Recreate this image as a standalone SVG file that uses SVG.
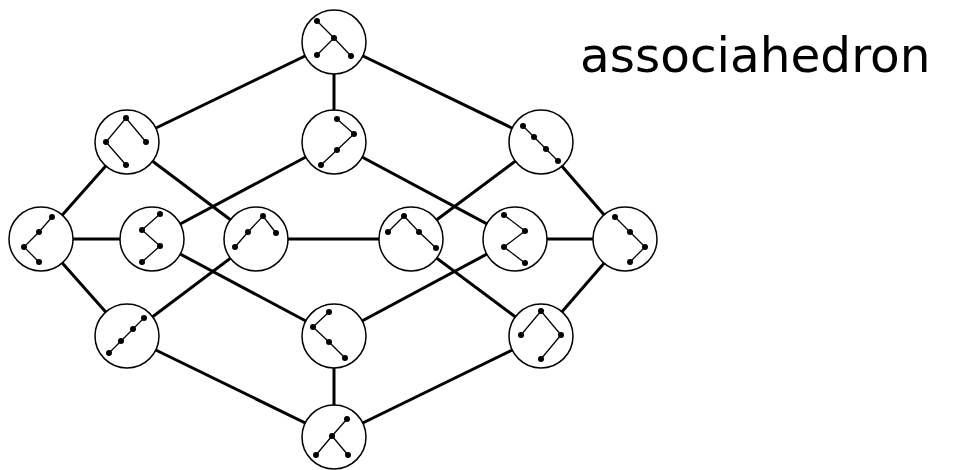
<svg xmlns="http://www.w3.org/2000/svg" width="980" height="470" viewBox="0 0 980 470">
<style>
.e{stroke:#000;stroke-width:3;fill:none;stroke-linecap:butt}
.c{fill:#fff;stroke:#000;stroke-width:1.5}
.t{stroke:#000;stroke-width:1.3;fill:none}
.d{fill:#000}
.lbl{font-family:"DejaVu Sans",sans-serif;font-size:48.5px;fill:#000}
</style>
<rect width="980" height="470" fill="#fff"/>
<g id="connectors">
<line class="e" x1="334" y1="42" x2="127" y2="142"/>
<line class="e" x1="334" y1="42" x2="334" y2="142"/>
<line class="e" x1="334" y1="42" x2="541" y2="142"/>
<line class="e" x1="127" y1="142" x2="41" y2="239"/>
<line class="e" x1="127" y1="142" x2="256" y2="239"/>
<line class="e" x1="334" y1="142" x2="152" y2="239"/>
<line class="e" x1="334" y1="142" x2="515" y2="239"/>
<line class="e" x1="541" y1="142" x2="411" y2="239"/>
<line class="e" x1="541" y1="142" x2="625" y2="239"/>
<line class="e" x1="41" y1="239" x2="152" y2="239"/>
<line class="e" x1="41" y1="239" x2="127" y2="336"/>
<line class="e" x1="152" y1="239" x2="334" y2="336"/>
<line class="e" x1="256" y1="239" x2="411" y2="239"/>
<line class="e" x1="256" y1="239" x2="127" y2="336"/>
<line class="e" x1="411" y1="239" x2="541" y2="336"/>
<line class="e" x1="515" y1="239" x2="625" y2="239"/>
<line class="e" x1="515" y1="239" x2="334" y2="336"/>
<line class="e" x1="625" y1="239" x2="541" y2="336"/>
<line class="e" x1="127" y1="336" x2="334" y2="437"/>
<line class="e" x1="334" y1="336" x2="334" y2="437"/>
<line class="e" x1="541" y1="336" x2="334" y2="437"/>
</g>
<g id="nA"><circle class="c" cx="334" cy="42" r="32"/><polyline class="t" points="317,21 334,38 317,55"/><line class="t" x1="334" y1="38" x2="351" y2="56"/><circle class="d" cx="317" cy="21" r="3"/><circle class="d" cx="334" cy="38" r="3"/><circle class="d" cx="317" cy="55" r="3"/><circle class="d" cx="351" cy="56" r="3"/></g>
<g id="nB"><circle class="c" cx="127" cy="142" r="32"/><polyline class="t" points="126,165 106,142 126,118 146,142"/><circle class="d" cx="126" cy="118" r="3"/><circle class="d" cx="106" cy="142" r="3"/><circle class="d" cx="146" cy="142" r="3"/><circle class="d" cx="126" cy="165" r="3"/></g>
<g id="nC"><circle class="c" cx="334" cy="142" r="32"/><polyline class="t" points="337,119 354,134 337,150 321,165"/><circle class="d" cx="337" cy="119" r="3"/><circle class="d" cx="354" cy="134" r="3"/><circle class="d" cx="337" cy="150" r="3"/><circle class="d" cx="321" cy="165" r="3"/></g>
<g id="nD"><circle class="c" cx="541" cy="142" r="32"/><polyline class="t" points="523,126 534,137 546,149 558,161"/><circle class="d" cx="523" cy="126" r="3"/><circle class="d" cx="534" cy="137" r="3"/><circle class="d" cx="546" cy="149" r="3"/><circle class="d" cx="558" cy="161" r="3"/></g>
<g id="nE"><circle class="c" cx="41" cy="239" r="32"/><polyline class="t" points="52,217 39,232 24,247 39,262"/><circle class="d" cx="52" cy="217" r="3"/><circle class="d" cx="39" cy="232" r="3"/><circle class="d" cx="24" cy="247" r="3"/><circle class="d" cx="39" cy="262" r="3"/></g>
<g id="nF"><circle class="c" cx="152" cy="239" r="32"/><polyline class="t" points="160,214 142,230 160,246 142,262"/><circle class="d" cx="160" cy="214" r="3"/><circle class="d" cx="142" cy="230" r="3"/><circle class="d" cx="160" cy="246" r="3"/><circle class="d" cx="142" cy="262" r="3"/></g>
<g id="nG"><circle class="c" cx="256" cy="239" r="32"/><polyline class="t" points="235,247 248,232 263,216 276,233"/><circle class="d" cx="235" cy="247" r="3"/><circle class="d" cx="248" cy="232" r="3"/><circle class="d" cx="263" cy="216" r="3"/><circle class="d" cx="276" cy="233" r="3"/></g>
<g id="nH"><circle class="c" cx="411" cy="239" r="32"/><polyline class="t" points="388,232 404,216 419,232 436,248"/><circle class="d" cx="388" cy="232" r="3"/><circle class="d" cx="404" cy="216" r="3"/><circle class="d" cx="419" cy="232" r="3"/><circle class="d" cx="436" cy="248" r="3"/></g>
<g id="nI"><circle class="c" cx="515" cy="239" r="32"/><polyline class="t" points="504,215 525,231 504,247 525,263"/><circle class="d" cx="504" cy="215" r="3"/><circle class="d" cx="525" cy="231" r="3"/><circle class="d" cx="504" cy="247" r="3"/><circle class="d" cx="525" cy="263" r="3"/></g>
<g id="nJ"><circle class="c" cx="625" cy="239" r="32"/><polyline class="t" points="615,217 630,232 645,247 630,262"/><circle class="d" cx="615" cy="217" r="3"/><circle class="d" cx="630" cy="232" r="3"/><circle class="d" cx="645" cy="247" r="3"/><circle class="d" cx="630" cy="262" r="3"/></g>
<g id="nK"><circle class="c" cx="127" cy="336" r="32"/><polyline class="t" points="144,318 133,329 121,341 109,353"/><circle class="d" cx="144" cy="318" r="3"/><circle class="d" cx="133" cy="329" r="3"/><circle class="d" cx="121" cy="341" r="3"/><circle class="d" cx="109" cy="353" r="3"/></g>
<g id="nL"><circle class="c" cx="334" cy="336" r="32"/><polyline class="t" points="329,312 313,327 329,342 345,358"/><circle class="d" cx="329" cy="312" r="3"/><circle class="d" cx="313" cy="327" r="3"/><circle class="d" cx="329" cy="342" r="3"/><circle class="d" cx="345" cy="358" r="3"/></g>
<g id="nM"><circle class="c" cx="541" cy="336" r="32"/><polyline class="t" points="521,335 541,311 561,335 541,359"/><circle class="d" cx="541" cy="311" r="3"/><circle class="d" cx="521" cy="335" r="3"/><circle class="d" cx="561" cy="335" r="3"/><circle class="d" cx="541" cy="359" r="3"/></g>
<g id="nN"><circle class="c" cx="334" cy="437" r="32"/><polyline class="t" points="347,419 332,436 316,455"/><line class="t" x1="332" y1="436" x2="348" y2="455"/><circle class="d" cx="347" cy="419" r="3"/><circle class="d" cx="332" cy="436" r="3"/><circle class="d" cx="316" cy="455" r="3"/><circle class="d" cx="348" cy="455" r="3"/></g>
<text class="lbl" x="580" y="72">associahedron</text>
</svg>
